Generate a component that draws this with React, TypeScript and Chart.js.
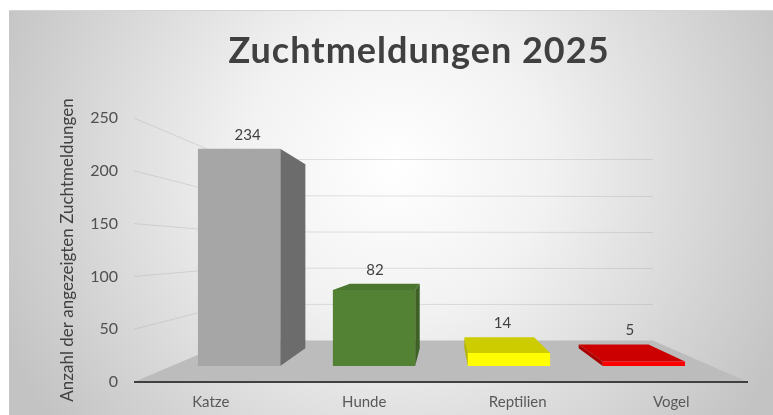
import React, { useEffect, useRef } from 'react';
import { Chart, registerables } from 'chart.js';

Chart.register(...registerables);

// ---- data ----
const TITLE = 'Zuchtmeldungen 2025';
const Y_AXIS_TITLE = 'Anzahl der angezeigten Zuchtmeldungen';
const CATEGORIES = ['Katze', 'Hunde', 'Reptilien', 'Vogel'];
const VALUES = [234, 82, 14, 5];
const Y_MIN = 0;
const Y_MAX = 250;
const Y_STEP = 50;

// ---- styles ----
const FRONT_COLORS = ['#a6a6a6', '#548235', '#ffff00', '#ff0000'];
const SIDE_COLORS = ['#6c6c6c', '#3e6226', '#b5b500', '#a80000'];
const TOP_COLORS = ['#8f8f8f', '#4b7630', '#cccc00', '#cc0000'];
const FONT = 'Lato';

// perspective set-up (screen pixels)
const VP = { x: 445, y: 250 };
const K_FRONT = 0.121;
const K_BACK = 0.255;
const K_WALL = 0.314;

const proj = (x: number, y: number, k: number): [number, number] => [
  x + k * (VP.x - x),
  y + k * (VP.y - y),
];

const fillPoly = (ctx: CanvasRenderingContext2D, pts: [number, number][], color: string) => {
  ctx.beginPath();
  ctx.moveTo(pts[0][0], pts[0][1]);
  for (let i = 1; i < pts.length; i++) ctx.lineTo(pts[i][0], pts[i][1]);
  ctx.closePath();
  ctx.fillStyle = color;
  ctx.fill();
};

const scenePlugin = {
  id: 'scene3d',
  beforeDraw(chart: any) {
    const { ctx, chartArea: a, scales } = chart;
    const W = chart.width;
    const H = chart.height;
    ctx.save();
    ctx.fillStyle = '#ffffff';
    ctx.fillRect(0, 0, W, H);
    const g = ctx.createRadialGradient(395, 165, 0, 395, 165, 430);
    g.addColorStop(0, '#ffffff');
    g.addColorStop(0.35, '#f2f2f2');
    g.addColorStop(1, '#c3c3c3');
    ctx.fillStyle = g;
    ctx.fillRect(9, 10, W - 9, H - 10);
    ctx.strokeStyle = '#d4d4d4';
    ctx.lineWidth = 1;
    ctx.beginPath();
    ctx.moveTo(9, 10.5);
    ctx.lineTo(W, 10.5);
    ctx.stroke();

    // wall grid lines
    const ys = scales.y;
    ctx.strokeStyle = 'rgba(170,170,170,0.35)';
    ctx.lineWidth = 1;
    ys.ticks.forEach((t: any) => {
      if (t.value === 0) return;
      const py = ys.getPixelForValue(t.value);
      const p0 = proj(a.left, py, 0);
      const p1 = proj(a.left, py, K_WALL);
      const p2 = proj(a.right, py, K_WALL);
      ctx.beginPath();
      ctx.moveTo(p0[0], p0[1]);
      ctx.lineTo(p1[0], p1[1]);
      ctx.lineTo(p2[0], Math.round(p2[1]) + 0.5);
      ctx.stroke();
    });

    // floor
    fillPoly(
      ctx,
      [proj(a.left, a.bottom, 0), proj(a.right, a.bottom, 0), proj(a.right, a.bottom, K_WALL), proj(a.left, a.bottom, K_WALL)],
      '#bcbcbc'
    );
    // front edge line
    ctx.strokeStyle = '#404040';
    ctx.lineWidth = 2;
    ctx.beginPath();
    ctx.moveTo(a.left, a.bottom);
    ctx.lineTo(a.right, a.bottom);
    ctx.stroke();

    // title
    ctx.fillStyle = '#404040';
    ctx.font = `bold 36px ${FONT}`;
    (ctx as any).letterSpacing = '1px';
    ctx.textAlign = 'center';
    ctx.textBaseline = 'alphabetic';
    ctx.fillText(TITLE, 419, 63);
    (ctx as any).letterSpacing = '0px';
    ctx.restore();
  },
  beforeDatasetsDraw(chart: any) {
    const { ctx } = chart;
    const meta = chart.getDatasetMeta(0);
    ctx.save();
    meta.data.forEach((el: any, i: number) => {
      const { x, y, base, width } = el.getProps(['x', 'y', 'base', 'width'], true);
      const xl = x - width / 2;
      const xr = x + width / 2;
      if (xr < VP.x) {
        fillPoly(ctx, [proj(xr, y, K_FRONT), proj(xr, y, K_BACK), proj(xr, base, K_BACK), proj(xr, base, K_FRONT)], SIDE_COLORS[i]);
      } else if (xl > VP.x) {
        fillPoly(ctx, [proj(xl, y, K_FRONT), proj(xl, y, K_BACK), proj(xl, base, K_BACK), proj(xl, base, K_FRONT)], SIDE_COLORS[i]);
      }
      if (y > VP.y) {
        fillPoly(ctx, [proj(xl, y, K_FRONT), proj(xr, y, K_FRONT), proj(xr, y, K_BACK), proj(xl, y, K_BACK)], TOP_COLORS[i]);
      }
    });
    ctx.restore();
    // front faces are drawn by Chart.js, scaled toward the vanishing point
    ctx.save();
    ctx.translate(K_FRONT * VP.x, K_FRONT * VP.y);
    ctx.scale(1 - K_FRONT, 1 - K_FRONT);
  },
  afterDatasetsDraw(chart: any) {
    const { ctx } = chart;
    ctx.restore();
    const meta = chart.getDatasetMeta(0);
    const data = chart.data.datasets[0].data;
    ctx.save();
    ctx.fillStyle = '#404040';
    ctx.font = `15px ${FONT}`;
    ctx.textAlign = 'center';
    ctx.textBaseline = 'middle';
    meta.data.forEach((el: any, i: number) => {
      const { x, y } = el.getProps(['x', 'y'], true);
      const topY = Math.min(proj(x, y, K_FRONT)[1], proj(x, y, K_BACK)[1]);
      const lx = proj(x, y, 0.17)[0] - 3;
      ctx.fillText(String(data[i]), lx, topY - 14);
    });
    ctx.restore();
  },
};

export default function App() {
  const ref = useRef<HTMLCanvasElement | null>(null);
  useEffect(() => {
    if (!ref.current) return;
    const chart = new Chart(ref.current, {
      type: 'bar',
      data: {
        labels: CATEGORIES,
        datasets: [
          {
            data: VALUES,
            backgroundColor: FRONT_COLORS,
            borderWidth: 0,
            categoryPercentage: 1,
            barPercentage: 0.61,
          },
        ],
      },
      options: {
        animation: false,
        responsive: false,
        devicePixelRatio: 1,
        layout: { padding: { left: 55, right: 25, top: 118, bottom: 0 } },
        plugins: {
          legend: { display: false },
          title: { display: false },
          tooltip: { enabled: false },
        },
        scales: {
          x: {
            grid: { display: false, drawTicks: false },
            border: { display: false },
            ticks: { color: '#595959', font: { family: FONT, size: 15 }, padding: 11 },
            afterFit: (s: any) => {
              s.height = 33;
            },
          },
          y: {
            min: Y_MIN,
            max: Y_MAX,
            grid: { display: false, drawTicks: false },
            border: { display: false },
            ticks: { stepSize: Y_STEP, color: '#505050', font: { family: FONT, size: 16 }, padding: 16 },
            title: {
              display: true,
              text: Y_AXIS_TITLE,
              color: '#404040',
              font: { family: FONT, size: 17 },
              padding: { top: 2.8, bottom: 0 },
            },
            afterFit: (s: any) => {
              s.width = 79;
            },
          },
        },
      },
      plugins: [scenePlugin],
    });
    return () => chart.destroy();
  }, []);
  return (
    <div style={{ position: 'fixed', left: 0, top: 0, width: 773, height: 415, overflow: 'hidden' }}>
      <canvas ref={ref} width={773} height={415} style={{ width: 773, height: 415, display: 'block' }} />
    </div>
  );
}
